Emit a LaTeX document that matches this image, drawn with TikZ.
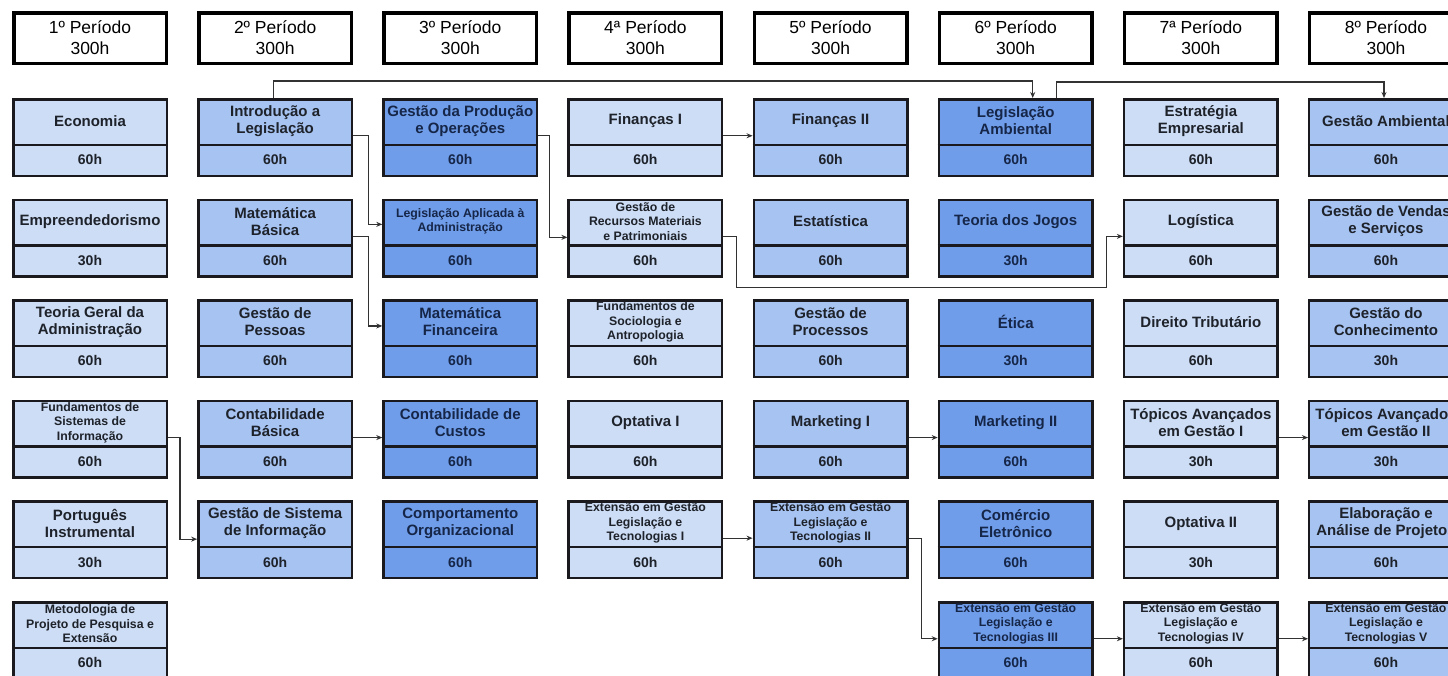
\documentclass[tikz,border=0pt]{standalone}
\usepackage{fontspec}
\setmainfont{Liberation Sans}
\usetikzlibrary{arrows.meta,calc}
\definecolor{lightc}{RGB}{205,221,245}
\definecolor{medc}{RGB}{166,195,242}
\definecolor{darkc}{RGB}{111,157,233}
\definecolor{edgec}{RGB}{25,25,30}
\definecolor{linec}{RGB}{50,50,50}
\definecolor{navytxt}{RGB}{22,38,72}
\definecolor{greytxt}{RGB}{30,34,42}
\tikzset{
 hdr/.style={draw=black, line width=3.5pt, minimum width=152.5pt, minimum height=50.5pt, inner sep=0pt, align=center, font=\fontsize{17.5}{21}\selectfont, fill=white},
 cbox/.style={draw=edgec, line width=2.5pt, minimum width=153.5pt, minimum height=76.5pt, inner sep=0pt},
 big/.style={align=center, inner sep=0pt, font=\bfseries\fontsize{15}{17}\selectfont},
 small/.style={align=center, inner sep=0pt, font=\bfseries\fontsize{12.3}{14.5}\selectfont},
 hrs/.style={inner sep=0pt, font=\bfseries\fontsize{14}{16}\selectfont},
 div/.style={draw=edgec, line width=2.5pt},
 lt box/.style={fill=lightc}, md box/.style={fill=medc}, dk box/.style={fill=darkc},
 lt txt/.style={text=greytxt}, md txt/.style={text=greytxt}, dk txt/.style={text=navytxt},
 conn/.style={draw=linec, line width=1.2pt, -{Stealth[length=6pt,width=5pt]}},
}
% #1 col, #2 row, #3 shade, #4 text style, #5 title, #6 hours
\newcommand\crs[6]{%
  \pgfmathsetmacro\cx{90+185.14*(#1-1)}%
  \pgfmathsetmacro\ty{-(98+100.6*(#2-1))}%
  \node[cbox,#3 box] (c#1r#2) at (\cx,\ty-39.5) {};
  \draw[div] ($(c#1r#2.north west)+(0,-46.75)$) -- ($(c#1r#2.north east)+(0,-46.75)$);
  \node[#4,#3 txt] (c#1r#2t) at ($(c#1r#2.north)+(0,-22.75)$) {#5};
  \node[hrs,#3 txt] (c#1r#2h) at ($(c#1r#2.north)+(0,-61.75)$) {#6};
}
\newcommand\hdrnode[2]{%
  \pgfmathsetmacro\cx{90+185.14*(#1-1)}%
  \node[hdr] (h#1) at (\cx,-38) {#2\\300h};
}
\begin{document}
\begin{tikzpicture}[x=1pt,y=1pt]
\useasboundingbox (0,0) rectangle (1448,-675);
\clip (0,0) rectangle (1448,-675);
\fill[white] (0,0) rectangle (1448,-675);
% headers
\hdrnode{1}{1º Período}
\hdrnode{2}{2º Período}
\hdrnode{3}{3º Período}
\hdrnode{4}{4ª Período}
\hdrnode{5}{5º Período}
\hdrnode{6}{6º Período}
\hdrnode{7}{7ª Período}
\hdrnode{8}{8º Período}
% column 1
\crs{1}{1}{lt}{big}{Economia}{60h}
\crs{1}{2}{lt}{big}{Empreendedorismo}{30h}
\crs{1}{3}{lt}{big}{Teoria Geral da\\Administração}{60h}
\crs{1}{4}{lt}{small}{Fundamentos de\\Sistemas de\\Informação}{60h}
\crs{1}{5}{lt}{big}{Português\\Instrumental}{30h}
\crs{1}{6}{lt}{small}{Metodologia de\\Projeto de Pesquisa e\\Extensão}{60h}
% column 2
\crs{2}{1}{md}{big}{Introdução a\\Legislação}{60h}
\crs{2}{2}{md}{big}{Matemática\\Básica}{60h}
\crs{2}{3}{md}{big}{Gestão de\\Pessoas}{60h}
\crs{2}{4}{md}{big}{Contabilidade\\Básica}{60h}
\crs{2}{5}{md}{big}{Gestão de Sistema\\de Informação}{60h}
% column 3
\crs{3}{1}{dk}{big}{Gestão da Produção\\e Operações}{60h}
\crs{3}{2}{dk}{small}{Legislação Aplicada à\\Administração}{60h}
\crs{3}{3}{dk}{big}{Matemática\\Financeira}{60h}
\crs{3}{4}{dk}{big}{Contabilidade de\\Custos}{60h}
\crs{3}{5}{dk}{big}{Comportamento\\Organizacional}{60h}
% column 4
\crs{4}{1}{lt}{big}{Finanças I}{60h}
\crs{4}{2}{lt}{small}{Gestão de\\Recursos Materiais\\e Patrimoniais}{60h}
\crs{4}{3}{lt}{small}{Fundamentos de\\Sociologia e\\Antropologia}{60h}
\crs{4}{4}{lt}{big}{Optativa I}{60h}
\crs{4}{5}{lt}{small}{Extensão em Gestão\\Legislação e\\Tecnologias I}{60h}
% column 5
\crs{5}{1}{md}{big}{Finanças II}{60h}
\crs{5}{2}{md}{big}{Estatística}{60h}
\crs{5}{3}{md}{big}{Gestão de\\Processos}{60h}
\crs{5}{4}{md}{big}{Marketing I}{60h}
\crs{5}{5}{md}{small}{Extensão em Gestão\\Legislação e\\Tecnologias II}{60h}
% column 6
\crs{6}{1}{dk}{big}{Legislação\\Ambiental}{60h}
\crs{6}{2}{dk}{big}{Teoria dos Jogos}{30h}
\crs{6}{3}{dk}{big}{Ética}{30h}
\crs{6}{4}{dk}{big}{Marketing II}{60h}
\crs{6}{5}{dk}{big}{Comércio\\Eletrônico}{60h}
\crs{6}{6}{dk}{small}{Extensão em Gestão\\Legislação e\\Tecnologias III}{60h}
% column 7
\crs{7}{1}{lt}{big}{Estratégia\\Empresarial}{60h}
\crs{7}{2}{lt}{big}{Logística}{60h}
\crs{7}{3}{lt}{big}{Direito Tributário}{60h}
\crs{7}{4}{lt}{big}{Tópicos Avançados\\em Gestão I}{30h}
\crs{7}{5}{lt}{big}{Optativa II}{30h}
\crs{7}{6}{lt}{small}{Extensão em Gestão\\Legislação e\\Tecnologias IV}{60h}
% column 8
\crs{8}{1}{md}{big}{Gestão Ambiental}{60h}
\crs{8}{2}{md}{big}{Gestão de Vendas\\e Serviços}{60h}
\crs{8}{3}{md}{big}{Gestão do\\Conhecimento}{30h}
\crs{8}{4}{md}{big}{Tópicos Avançados\\em Gestão II}{30h}
\crs{8}{5}{md}{big}{Elaboração e\\Análise de Projetos}{60h}
\crs{8}{6}{md}{small}{Extensão em Gestão\\Legislação e\\Tecnologias V}{60h}
% connectors
\draw[conn] ($(c2r1.north)+(-2,0)$) -- ++(0,17) -| ($(c6r1.north)+(17,0)$);
\draw[conn] ($(c6r1.north)+(41,0)$) -- ++(0,16) -| ($(c8r1.north)+(-2,0)$);
\draw[conn] ($(c2r1.north east)+(0,-37.75)$) -- ++(15,0) |- ($(c3r2.north west)+(0,-25.75)$);
\draw[conn] ($(c2r2.north east)+(0,-37.75)$) -- ++(15,0) |- ($(c3r3.north west)+(0,-26.75)$);
\draw[conn] ($(c3r1.north east)+(0,-37.75)$) -- ++(11,0) |- ($(c4r2.north west)+(0,-38.75)$);
\draw[conn] ($(c4r2.north east)+(0,-37.75)$) -- ++(13,0) |- ($(c7r2.north west)+(-16,-88.75)$) -- ($(c7r2.north west)+(-16,-37.75)$) -- ($(c7r2.north west)+(0,-37.75)$);
\draw[conn] ($(c4r1.north east)+(0,-37.75)$) -- ($(c5r1.north west)+(0,-37.75)$);
\draw[conn] ($(c2r4.north east)+(0,-37.75)$) -- ($(c3r4.north west)+(0,-37.75)$);
\draw[conn] ($(c1r4.north east)+(0,-37.75)$) -- ++(12,0) |- ($(c2r5.north west)+(0,-38.75)$);
\draw[conn] ($(c5r4.north east)+(0,-37.75)$) -- ($(c6r4.north west)+(0,-37.75)$);
\draw[conn] ($(c4r5.north east)+(0,-37.75)$) -- ($(c5r5.north west)+(0,-37.75)$);
\draw[conn] ($(c5r5.north east)+(0,-37.75)$) -- ++(13,0) |- ($(c6r6.north west)+(0,-37.75)$);
\draw[conn] ($(c6r6.north east)+(0,-37.75)$) -- ($(c7r6.north west)+(0,-37.75)$);
\draw[conn] ($(c7r6.north east)+(0,-37.75)$) -- ($(c8r6.north west)+(0,-37.75)$);
\draw[conn] ($(c7r4.north east)+(0,-37.75)$) -- ($(c8r4.north west)+(0,-37.75)$);
\end{tikzpicture}
\end{document}
